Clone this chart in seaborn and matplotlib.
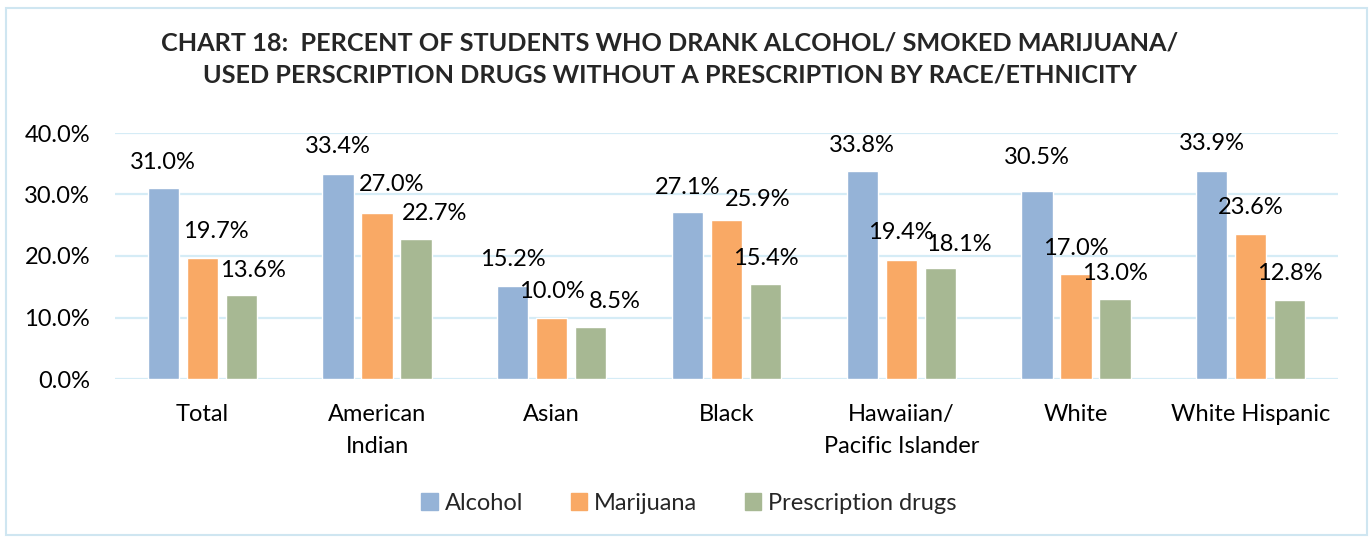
import matplotlib
matplotlib.use("Agg")
import matplotlib.pyplot as plt
import matplotlib.patches as mpatches
import seaborn as sns
import pandas as pd

categories = ["Total", "American\nIndian", "Asian", "Black", "Hawaiian/\nPacific Islander", "White", "White Hispanic"]
series_names = ["Alcohol", "Marijuana", "Prescription drugs"]
alcohol = [31.0, 33.4, 15.2, 27.1, 33.8, 30.5, 33.9]
marijuana = [19.7, 27.0, 10.0, 25.9, 19.4, 17.0, 23.6]
prescription = [13.6, 22.7, 8.5, 15.4, 18.1, 13.0, 12.8]
yticks = [0, 10, 20, 30, 40]

colors = ["#95B3D7", "#F9A965", "#A7B893"]
grid_color = "#D5ECF6"

# label nudges (pixels: dx, dy above bar top) per series, per category
label_nudge = [
    [(0, 26), (0, 27), (0, 26), (0, 25), (0, 26), (0, 34), (0, 27)],
    [(13, 26), (15, 28), (0, 26), (31, 20), (0, 27), (0, 26), (0, 26)],
    [(12, 25), (18, 26), (24, 25), (0, 26), (19, 23), (0, 26), (0, 27)],
]

rows = []
for name, vals in zip(series_names, [alcohol, marijuana, prescription]):
    for c, v in zip(categories, vals):
        rows.append({"group": c, "value": v, "substance": name})
df = pd.DataFrame(rows)

sns.set_theme(style="white")
plt.rcParams["font.family"] = ["Lato", "DejaVu Sans"]

W, H = 1372, 539
fig = plt.figure(figsize=(W / 100, H / 100), dpi=100)
ax = fig.add_axes([115 / W, 1 - 379 / H, (1338 - 115) / W, (379 - 133) / H])

sns.barplot(data=df, x="group", y="value", hue="substance", order=categories,
            hue_order=series_names, palette=colors, saturation=1,
            width=0.67, gap=0.2, ax=ax, legend=False, zorder=3)

FS = 17
ax.set_ylim(0, 40)
ax.set_xlim(-0.5, len(categories) - 0.5)
ax.set_yticks(yticks)
ax.set_yticklabels([f"{t:.1f}%" for t in yticks], fontsize=FS, color="#000000")
ax.tick_params(axis="y", length=0, pad=18)
ax.tick_params(axis="x", length=0, pad=18)
for lab in ax.get_xticklabels():
    lab.set_fontsize(FS)
    lab.set_linespacing(1.65)
    lab.set_color("#000000")
ax.set_xlabel("")
ax.set_ylabel("")
for y in yticks:
    ax.axhline(y, color=grid_color, lw=1.6, zorder=1)
for s in ax.spines.values():
    s.set_visible(False)

px = 0.72
for si, cont in enumerate(ax.containers):
    for ci, bar in enumerate(cont):
        h = bar.get_height()
        dx, dy = label_nudge[si][ci]
        ax.annotate(f"{h:.1f}%", (bar.get_x() + bar.get_width() / 2, h),
                    xytext=(dx * px, dy * px), textcoords="offset points",
                    ha="center", va="center", fontsize=FS, color="#000000", zorder=5)

fig.text(670 / W, 1 - 43 / H, "CHART 18:  PERCENT OF STUDENTS WHO DRANK ALCOHOL/ SMOKED MARIJUANA/",
         ha="center", va="center", fontsize=18.2, fontweight="bold")
fig.text(670 / W, 1 - 75 / H, "USED PERSCRIPTION DRUGS WITHOUT A PRESCRIPTION BY RACE/ETHNICITY",
         ha="center", va="center", fontsize=18.2, fontweight="bold")

handles = [mpatches.Patch(color=c, label=n) for c, n in zip(colors, series_names)]
fig.legend(handles=handles, loc="center", bbox_to_anchor=(689 / W, 1 - 503 / H), ncol=3,
           frameon=False, fontsize=FS, handlelength=0.7, handleheight=0.7,
           handletextpad=0.3, columnspacing=2.0)

fig.patches.append(mpatches.Rectangle((6 / W, 4 / H), (1367 - 6) / W, (531 - 4) / H,
                                      transform=fig.transFigure, fill=False,
                                      edgecolor="#CFE6F1", lw=1.5))

fig.savefig("out.png", dpi=100, facecolor="white")
